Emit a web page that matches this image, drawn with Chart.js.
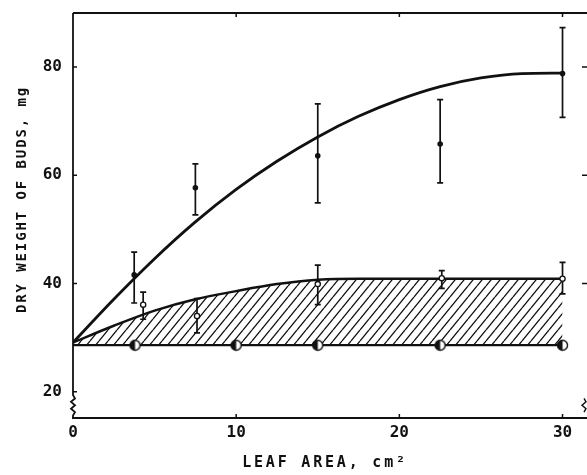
<!DOCTYPE html>
<html>
<head>
<meta charset="utf-8">
<script src="https://cdn.jsdelivr.net/npm/chart.js@4.4.1/dist/chart.umd.min.js"></script>
<style>
  html, body { margin: 0; padding: 0; background: #fff; }
  #wrap { width: 587px; height: 475px; }
</style>
</head>
<body>
<div id="wrap"><canvas id="budChart" width="587" height="475"></canvas></div>
<script>
// Values
const curveX = [0, 2.5, 5, 7.5, 10, 12.5, 15, 17.5, 20, 22.5, 25, 27.5, 30];
const upperCurve = [29.1, 37.1, 44.6, 51.4, 57.4, 62.6, 67.1, 70.9, 74.0, 76.4, 78.0, 78.8, 78.9];
const middleCurve = [29.1, 32.2, 35.0, 37.1, 38.6, 39.9, 40.7, 40.9, 40.9, 40.9, 40.9, 40.9, 40.9];
const baseCurve = [28.6, 28.6, 28.6, 28.6, 28.6, 28.6, 28.6, 28.6, 28.6, 28.6, 28.6, 28.6, 28.6];

const upperX = [3.75, 7.5, 15, 22.5, 30];
const upperY = [41.6, 57.7, 63.6, 65.8, 78.8];
const upperHi = [45.8, 62.1, 73.2, 74.0, 87.3];
const upperLo = [36.4, 52.7, 54.9, 58.6, 70.7];

const midX = [4.3, 7.6, 15, 22.6, 30];
const midY = [36.1, 34.0, 39.9, 41.0, 40.9];
const midHi = [38.4, 37.2, 43.4, 42.4, 43.9];
const midLo = [33.4, 30.9, 36.1, 39.1, 38.1];

const baseX = [3.8, 10, 15, 22.5, 30];
const baseY = [28.6, 28.6, 28.6, 28.6, 28.6];

const xTicks = [0, 10, 20, 30];
const yTicks = [20, 40, 60, 80];
const axisBreak = [19.4, 15.6];

const ink = "#111";
const canvas = document.getElementById("budChart");
const ctx2d = canvas.getContext("2d");

const pts = (xs, ys) => xs.map((x, i) => ({ x, y: ys[i] }));

// half filled circle marker
function halfDot() {
    const c = document.createElement("canvas");
    c.width = 13; c.height = 13;
    const g = c.getContext("2d");
    g.fillStyle = "#fff";
    g.beginPath(); g.arc(6.5, 6.5, 5, 0, Math.PI * 2); g.fill();
    g.fillStyle = ink;
    g.beginPath(); g.arc(6.5, 6.5, 5, Math.PI / 2, Math.PI * 1.5); g.fill();
    g.lineWidth = 1.4; g.strokeStyle = ink;
    g.beginPath(); g.arc(6.5, 6.5, 5, 0, Math.PI * 2); g.stroke();
    return c;
}

// diagonal hatch
function hatch() {
    const w = 9, h = 11;
    const c = document.createElement("canvas");
    c.width = w; c.height = h;
    const g = c.getContext("2d");
    g.strokeStyle = ink; g.lineWidth = 1.3;
    g.beginPath();
    g.moveTo(0, h); g.lineTo(w, 0);
    g.moveTo(-w, h); g.lineTo(0, 0);
    g.moveTo(w, h); g.lineTo(2 * w, 0);
    g.stroke();
    return ctx2d.createPattern(c, "repeat");
}

// error bars
const errorBars = {
    id: "errorBars",
    beforeDatasetsDraw(chart) {
        const { ctx, scales: { x, y } } = chart;
        ctx.save();
        ctx.strokeStyle = ink;
        ctx.lineWidth = 1.7;
        chart.data.datasets.forEach(ds => {
            if (!ds.errHi) return;
            ds.data.forEach((p, j) => {
                const px = x.getPixelForValue(p.x);
                const top = y.getPixelForValue(ds.errHi[j]);
                const bot = y.getPixelForValue(ds.errLo[j]);
                ctx.beginPath();
                ctx.moveTo(px, top); ctx.lineTo(px, bot);
                ctx.moveTo(px - 3, top); ctx.lineTo(px + 3, top);
                ctx.moveTo(px - 3, bot); ctx.lineTo(px + 3, bot);
                ctx.stroke();
            });
        });
        ctx.restore();
    }
};

// top / left / right frame, inward ticks, axis breaks
const frame = {
    id: "frame",
    afterDraw(chart) {
        const { ctx, chartArea: a, scales: { x, y } } = chart;
        ctx.save();
        ctx.strokeStyle = ink;
        ctx.lineWidth = 2;
        ctx.beginPath();
        ctx.moveTo(a.left, a.top); ctx.lineTo(a.right, a.top);
        ctx.stroke();

        const b1 = y.getPixelForValue(axisBreak[0]);
        const b2 = y.getPixelForValue(axisBreak[1]);
        const h = (b2 - b1) / 6;
        ctx.lineWidth = 1.8;
        ctx.beginPath();
        ctx.moveTo(a.left, a.top);
        ctx.lineTo(a.left, b1);
        ctx.lineTo(a.left + 2, b1 + h);
        ctx.lineTo(a.left - 2, b1 + 2 * h);
        ctx.lineTo(a.left + 2, b1 + 3 * h);
        ctx.lineTo(a.left - 2, b1 + 4 * h);
        ctx.lineTo(a.left + 2, b1 + 5 * h);
        ctx.lineTo(a.left, b2);
        ctx.lineTo(a.left, a.bottom);
        ctx.stroke();

        const r = a.right - 3;
        ctx.lineWidth = 1.4;
        ctx.beginPath();
        ctx.moveTo(r, b1 + h);
        ctx.lineTo(r + 2, b1 + 2 * h);
        ctx.lineTo(r - 2, b1 + 3 * h);
        ctx.lineTo(r + 2, b1 + 4 * h);
        ctx.lineTo(r, b2 - h);
        ctx.stroke();

        ctx.lineWidth = 1.5;
        ctx.beginPath();
        yTicks.forEach(v => {
            const py = y.getPixelForValue(v);
            ctx.moveTo(a.left, py); ctx.lineTo(a.left + 4, py);
            if (v > 20) { ctx.moveTo(a.right, py); ctx.lineTo(a.right - 5, py); }
        });
        xTicks.forEach(v => {
            if (v === 0) return;
            const px = x.getPixelForValue(v);
            ctx.moveTo(px, a.bottom); ctx.lineTo(px, a.bottom - 4);
            ctx.moveTo(px, a.top); ctx.lineTo(px, a.top + 4);
        });
        ctx.stroke();
        ctx.restore();
    }
};

// letter spaced axis titles
const titleStyle = { x: { spacing: "2.8px", dx: -5, dy: 0 }, y: { spacing: "1.9px", dx: 0, dy: -16 } };
const spacedTitles = {
    id: "spacedTitles",
    beforeDraw(chart) {
        Object.values(chart.scales).forEach(s => {
            if (s._spaced) return;
            const orig = s.drawTitle;
            const st = titleStyle[s.id];
            s.drawTitle = function () {
                this.ctx.save();
                this.ctx.letterSpacing = st.spacing;
                this.ctx.translate(st.dx, st.dy);
                orig.call(this);
                this.ctx.restore();
            };
            s._spaced = true;
        });
    }
};

const tickFont = { family: "'DejaVu Sans Mono'", size: 16, weight: "bold" };

new Chart(ctx2d, {
    type: "line",
    data: {
        datasets: [
            { data: pts(baseX, baseY), showLine: false, pointStyle: halfDot(), pointRadius: 6 },
            { data: pts(upperX, upperY), errHi: upperHi, errLo: upperLo, showLine: false,
              pointRadius: 2.8, pointBackgroundColor: ink, pointBorderColor: ink, pointBorderWidth: 0 },
            { data: pts(midX, midY), errHi: midHi, errLo: midLo, showLine: false,
              pointRadius: 2.6, pointBackgroundColor: "#fff", pointBorderColor: ink, pointBorderWidth: 1.3 },
            { data: pts(curveX, upperCurve), borderColor: ink, borderWidth: 2.8, pointRadius: 0,
              cubicInterpolationMode: "monotone", fill: false },
            { data: pts(curveX, middleCurve), borderColor: ink, borderWidth: 2.5, pointRadius: 0,
              cubicInterpolationMode: "monotone", fill: "+1", backgroundColor: hatch() },
            { data: pts(curveX, baseCurve), borderColor: ink, borderWidth: 2.2, pointRadius: 0, fill: false }
        ]
    },
    options: {
        responsive: false,
        animation: false,
        devicePixelRatio: 1,
        layout: { autoPadding: false, padding: { top: 13, right: 0, bottom: 0, left: 0 } },
        plugins: { legend: { display: false }, tooltip: { enabled: false } },
        scales: {
            x: {
                type: "linear",
                min: 0,
                max: 31.5,
                afterFit: s => { s.height = 57; s.paddingLeft = 0; s.paddingRight = 0; },
                afterBuildTicks: s => { s.ticks = xTicks.map(v => ({ value: v })); },
                grid: { display: false, drawTicks: false },
                border: { display: true, color: ink, width: 2 },
                ticks: { font: tickFont, color: ink, padding: 5, maxRotation: 0 },
                title: {
                    display: true,
                    text: "LEAF AREA, cm²",
                    color: ink,
                    font: { family: "'DejaVu Sans Mono'", size: 15, weight: "bold" },
                    padding: { top: 0, bottom: 3 }
                }
            },
            y: {
                min: 15.15,
                max: 90,
                afterFit: s => { s.width = 73; s.paddingTop = 0; s.paddingBottom = 0; },
                afterBuildTicks: s => { s.ticks = yTicks.map(v => ({ value: v })); },
                grid: { display: false, drawTicks: false },
                border: { display: false },
                ticks: { font: tickFont, color: ink, padding: 11 },
                title: {
                    display: true,
                    text: "DRY WEIGHT OF BUDS, mg",
                    color: ink,
                    font: { family: "'DejaVu Sans Mono'", size: 14, weight: "bold" },
                    padding: { top: 14, bottom: 0 }
                }
            }
        }
    },
    plugins: [errorBars, frame, spacedTitles]
});
</script>
</body>
</html>
